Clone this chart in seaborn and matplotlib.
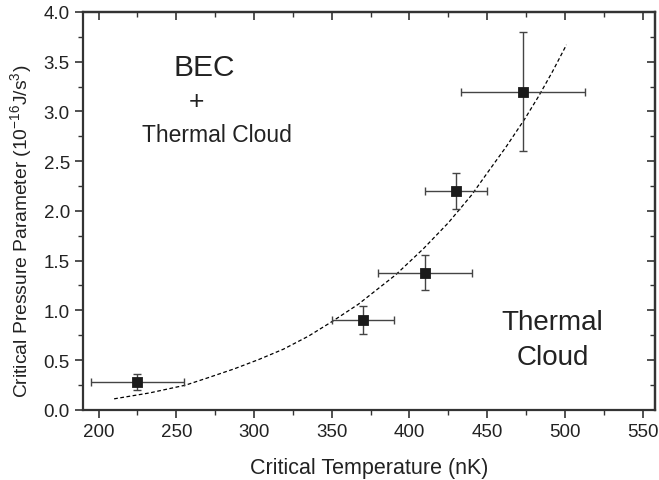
import numpy as np
import pandas as pd
import matplotlib
matplotlib.use('Agg')
import matplotlib.pyplot as plt
import seaborn as sns
from matplotlib.ticker import MultipleLocator, FormatStrFormatter

# measured points
temp = [225, 370, 410, 430, 473]
pressure = [0.28, 0.90, 1.38, 2.20, 3.20]
temp_err = [30, 20, 30, 20, 40]
pressure_err = [0.08, 0.14, 0.18, 0.18, 0.60]

# dashed fit curve
curve_t = [210, 233, 256, 270, 287, 303, 319, 335, 350, 367, 391, 409, 425,
           440, 450, 462, 474, 483, 492, 501]
curve_p = [0.11, 0.17, 0.248, 0.32, 0.41, 0.505, 0.61, 0.74, 0.885, 1.06, 1.355,
           1.62, 1.88, 2.16, 2.38, 2.64, 2.92, 3.15, 3.40, 3.67]

pts = pd.DataFrame({'T': temp, 'P': pressure})
fit = pd.DataFrame({'T': curve_t, 'P': curve_p})

sns.set_style('ticks')
plt.rcParams['font.family'] = ['Liberation Sans', 'DejaVu Sans']
plt.rcParams['mathtext.fontset'] = 'custom'
plt.rcParams['mathtext.rm'] = 'Liberation Sans'

ink = '#222222'
axis_col = '#333333'

fig = plt.figure(figsize=(6.59, 4.81), dpi=100)
ax = fig.add_axes([0.126, 0.146, 0.868, 0.827])

sns.lineplot(data=fit, x='T', y='P', ax=ax, sort=False, color='black',
             linestyle=(0, (3, 2)), linewidth=0.9)
ax.errorbar(temp, pressure, xerr=temp_err, yerr=pressure_err, fmt='none',
            ecolor='#444444', elinewidth=1.0, capsize=3, capthick=1.0)
sns.scatterplot(data=pts, x='T', y='P', ax=ax, marker='s', s=55,
                color='#1a1a1a', edgecolor='#1a1a1a', zorder=5)

ax.set_xlim(190, 558)
ax.set_ylim(0, 4.0)
ax.xaxis.set_major_locator(MultipleLocator(50))
ax.xaxis.set_minor_locator(MultipleLocator(25))
ax.yaxis.set_major_locator(MultipleLocator(0.5))
ax.yaxis.set_minor_locator(MultipleLocator(0.25))
ax.yaxis.set_major_formatter(FormatStrFormatter('%.1f'))

for s in ax.spines.values():
    s.set_visible(True)
    s.set_linewidth(1.6)
    s.set_color(axis_col)

ax.tick_params(which='both', direction='out', colors=axis_col, labelcolor=ink,
               labelsize=13.5, top=False, right=False)
ax.tick_params(which='major', length=6, width=1.2)
ax.tick_params(which='minor', length=3.5, width=1.0)

# mirrored ticks on top/right pointing inward
top = ax.secondary_xaxis('top')
top.xaxis.set_major_locator(MultipleLocator(50))
top.xaxis.set_minor_locator(MultipleLocator(25))
top.tick_params(which='both', direction='in', labeltop=False, colors=axis_col)
top.tick_params(which='major', length=6, width=1.2)
top.tick_params(which='minor', length=3.5, width=1.0)
top.spines['top'].set_linewidth(1.6)
top.spines['top'].set_color(axis_col)
right = ax.secondary_yaxis('right')
right.yaxis.set_major_locator(MultipleLocator(0.5))
right.yaxis.set_minor_locator(MultipleLocator(0.25))
right.tick_params(which='both', direction='in', labelright=False, colors=axis_col)
right.tick_params(which='major', length=6, width=1.2)
right.tick_params(which='minor', length=3.5, width=1.0)
right.spines['right'].set_linewidth(1.6)
right.spines['right'].set_color(axis_col)

ax.set_xlabel('Critical Temperature (nK)', fontsize=15.5, color=ink, labelpad=12)
ax.set_ylabel('Critical Pressure Parameter (10$^{-16}$J/s$^{3}$)', fontsize=13.9,
              color=ink)
ax.yaxis.set_label_coords(-0.0845, 0.452)

ax.text(268, 3.45, 'BEC', fontsize=21.5, ha='center', va='center', color=ink)
ax.text(263, 3.1, '+', fontsize=19, ha='center', va='center', color=ink)
ax.text(276, 2.77, 'Thermal Cloud', fontsize=16.5, ha='center', va='center', color=ink)
ax.text(492, 0.88, 'Thermal', fontsize=20, ha='center', va='center', color=ink)
ax.text(492, 0.53, 'Cloud', fontsize=20, ha='center', va='center', color=ink)

fig.savefig('out.png', dpi=100)
